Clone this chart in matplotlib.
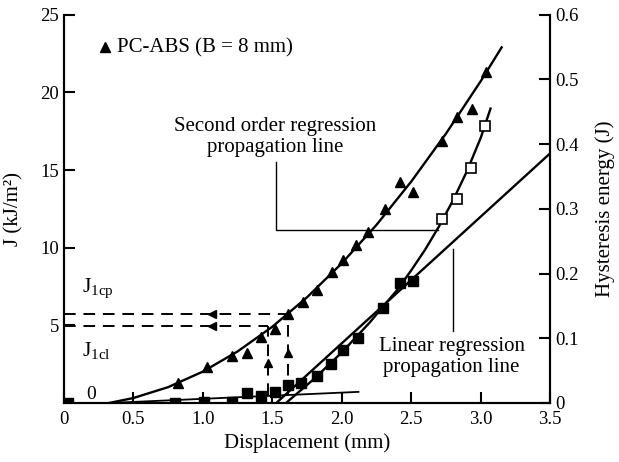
import numpy as np
import matplotlib.pyplot as plt

plt.rcParams['font.family'] = ['Liberation Serif', 'DejaVu Serif']
plt.rcParams['mathtext.fontset'] = 'custom'
plt.rcParams['mathtext.rm'] = 'Liberation Serif'
plt.rcParams['mathtext.it'] = 'Liberation Serif:italic'

# J data (triangles), left axis
tri_x = [0.82, 1.03, 1.21, 1.32, 1.42, 1.52, 1.61, 1.72, 1.82, 1.93,
         2.01, 2.10, 2.19, 2.31, 2.42, 2.51, 2.72, 2.83, 2.94, 3.04]
tri_y = [1.3, 2.3, 3.0, 3.2, 4.25, 4.75, 5.7, 6.5, 7.3, 8.4,
         9.2, 10.2, 11.0, 12.5, 14.2, 13.6, 16.9, 18.4, 18.9, 21.3]

# second order regression of J
jfit_x = [0.33, 0.5, 0.75, 1.0, 1.25, 1.5, 1.75, 2.0, 2.25, 2.5, 2.75, 3.0, 3.15]
jfit_y = [0.0, 0.31, 1.01, 2.01, 3.31, 4.90, 6.80, 8.99, 11.47, 14.26, 17.35, 20.73, 22.9]

# hysteresis energy (squares), right axis
sq_x = [0.03, 0.80, 1.01, 1.21, 1.32, 1.42, 1.52, 1.61, 1.71, 1.82,
        1.92, 2.01, 2.12, 2.30, 2.42, 2.51]
sq_y = [0.0, 0.0, 0.002, 0.002, 0.015, 0.011, 0.017, 0.028, 0.030, 0.041,
        0.060, 0.082, 0.101, 0.147, 0.185, 0.189]
open_x = [2.72, 2.83, 2.93, 3.03]
open_y = [0.284, 0.315, 0.363, 0.428]

# hysteresis regressions
hfit_x = [1.60, 1.80, 2.00, 2.20, 2.40, 2.50, 2.60, 2.70, 2.80, 2.90, 3.00, 3.07]
hfit_y = [0.0, 0.037, 0.078, 0.124, 0.175, 0.205, 0.237, 0.273, 0.313, 0.358, 0.410, 0.455]
lin_x = [1.53, 3.5]
lin_y = [0.0, 0.386]
base_x = [0.35, 2.12]
base_y = [0.0, 0.017]

# critical values
j1cp, x1cp = 5.73, 1.61
j1cl, x1cl = 4.96, 1.47

fig = plt.figure(figsize=(6.19, 4.62), dpi=100)
ax = fig.add_axes([0.103, 0.128, 0.786, 0.84])
ax2 = ax.twinx()

ax.plot(jfit_x, jfit_y, color='black', lw=1.7)
ax.plot(tri_x, tri_y, '^', color='black', ms=7.5, ls='none')

ax2.plot(hfit_x, hfit_y, color='black', lw=1.7)
ax2.plot(lin_x, lin_y, color='black', lw=1.7)
ax2.plot(base_x, base_y, color='black', lw=1.3)
ax2.plot(sq_x, sq_y, 's', color='black', ms=6.5, ls='none')
ax2.plot(open_x, open_y, 's', mfc='white', mec='black', mew=1.2, ms=7, ls='none')

# dashed construction lines
ax.plot([0, x1cp], [j1cp, j1cp], '--', color='black', lw=1.4, dashes=(6, 4))
ax.plot([0, x1cl], [j1cl, j1cl], '--', color='black', lw=1.4, dashes=(6, 4))
ax.plot([x1cp, x1cp], [0.5, j1cp], '--', color='black', lw=1.4, dashes=(6, 4))
ax.plot([x1cl, x1cl], [0.5, j1cl], '--', color='black', lw=1.4, dashes=(6, 4))
ax.plot([1.07, 1.07], [j1cp, j1cl], '<', color='black', ms=6, ls='none')
ax.plot([x1cl, x1cp], [2.6, 3.2], '^', color='black', ms=6, ls='none')

# pointer lines for annotations
ax.plot([1.53, 1.53, 2.69], [15.5, 11.15, 11.15], color='black', lw=1.0)
ax.plot([2.80, 2.80], [9.9, 4.6], color='black', lw=1.0)

ax.text(1.52, 17.1, 'Second order regression\npropagation line', ha='center',
        va='center', fontsize=15, linespacing=1.15)
ax.text(2.79, 2.95, 'Linear regression\npropagation line', ha='center',
        va='center', fontsize=15, linespacing=1.15)
ax.plot([0.30], [22.9], '^', color='black', ms=7.5)
ax.text(0.385, 22.9, 'PC-ABS (B = 8 mm)', va='center', fontsize=15)
ax.text(0.13, 7.4, r'$\mathrm{J}_{\mathrm{1cp}}$', fontsize=15.5, va='center')
ax.text(0.13, 3.4, r'$\mathrm{J}_{\mathrm{1cl}}$', fontsize=15.5, va='center')
ax.text(0.2, 0.55, '0', fontsize=14, ha='center', va='center')

ax.set_xlim(0, 3.5)
ax.set_ylim(0, 25)
ax2.set_ylim(0, 0.6)
ax.set_xticks([0, 0.5, 1.0, 1.5, 2.0, 2.5, 3.0, 3.5])
ax.set_xticklabels(['0', '0.5', '1.0', '1.5', '2.0', '2.5', '3.0', '3.5'])
ax.set_yticks([5, 10, 15, 20, 25])
ax2.set_yticks([0, 0.1, 0.2, 0.3, 0.4, 0.5, 0.6])
ax2.set_yticklabels(['0', '0.1', '0.2', '0.3', '0.4', '0.5', '0.6'])

for a in (ax, ax2):
    a.spines['top'].set_visible(False)
    for s in a.spines.values():
        s.set_linewidth(1.5)
    a.tick_params(direction='in', length=8, width=1.5, labelsize=13.5)
ax.tick_params(axis='x', pad=6)

ax.set_xlabel('Displacement (mm)', fontsize=15)
ax.set_ylabel('J (kJ/m²)', fontsize=15)
ax2.set_ylabel('Hysteresis energy (J)', fontsize=15, rotation=90)
ax.yaxis.set_label_coords(-0.083, 0.5)
ax2.yaxis.set_label_coords(1.092, 0.5)

fig.savefig('out.png', dpi=100)
